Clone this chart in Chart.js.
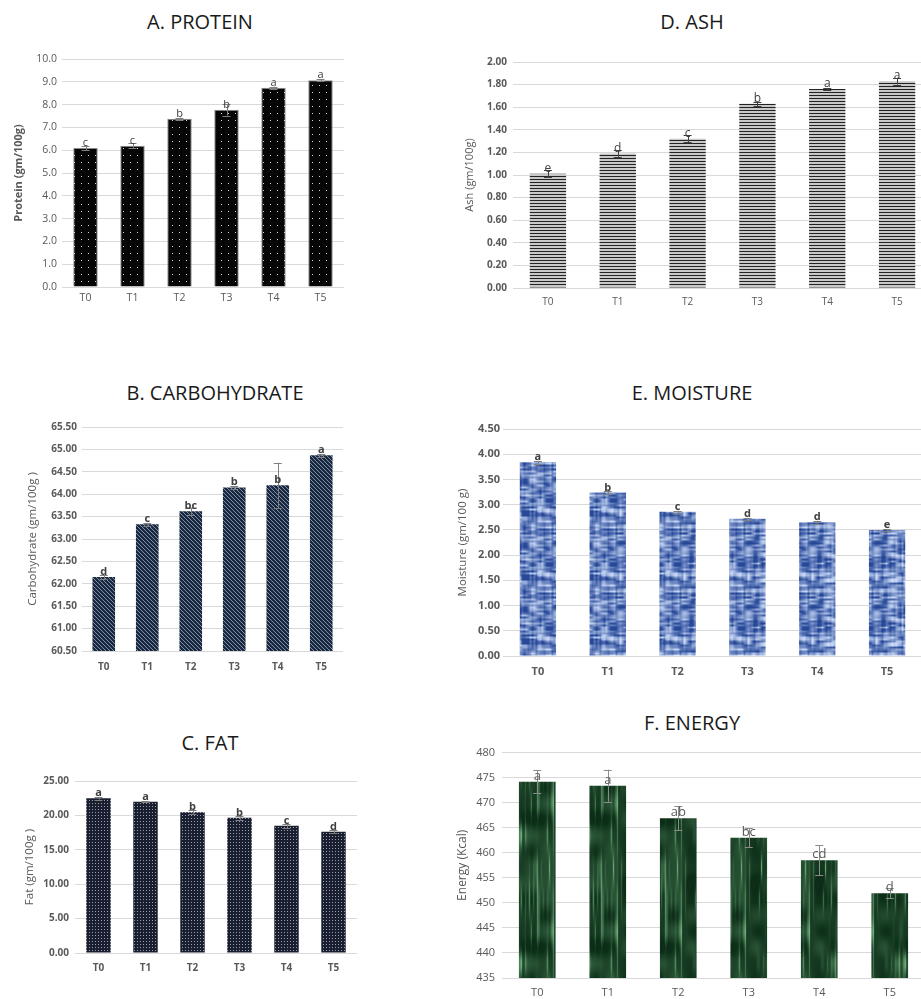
<!DOCTYPE html>
<html>
<head>
<meta charset="utf-8">
<script src="https://cdn.jsdelivr.net/npm/chart.js@4.4.1/dist/chart.umd.min.js"></script>
<style>
    html, body { margin: 0; padding: 0; background: #fff; overflow: hidden; }
    body { width: 921px; height: 999px; position: relative; }
    .panel { position: absolute; }
    .title {
        position: absolute;
        font-family: 'Open Sans', sans-serif;
        font-size: 20px;
        color: #1a1a1a;
        transform: translate(-50%, -50%);
        white-space: nowrap;
    }
</style>
</head>
<body>
<div class="title" style="left:200px; top:21px;">A. PROTEIN</div>
<div class="title" style="left:692px; top:21px;">D. ASH</div>
<div class="title" style="left:215px; top:392px;">B. CARBOHYDRATE</div>
<div class="title" style="left:692px; top:392px;">E. MOISTURE</div>
<div class="title" style="left:210px; top:742px;">C. FAT</div>
<div class="title" style="left:692px; top:722px;">F. ENERGY</div>

<div class="panel" id="boxA"><canvas id="chartA"></canvas></div>
<div class="panel" id="boxD"><canvas id="chartD"></canvas></div>
<div class="panel" id="boxB"><canvas id="chartB"></canvas></div>
<div class="panel" id="boxE"><canvas id="chartE"></canvas></div>
<div class="panel" id="boxC"><canvas id="chartC"></canvas></div>
<div class="panel" id="boxF"><canvas id="chartF"></canvas></div>

<script>
// --- Data ---
const treatments = ['T0', 'T1', 'T2', 'T3', 'T4', 'T5'];

const proteinValues = [6.10, 6.20, 7.38, 7.77, 8.74, 9.07];
const proteinErrors = [0.10, 0.10, 0.05, 0.25, 0.05, 0.05];
const proteinLetters = ['c', 'c', 'b', 'b', 'a', 'a'];
const proteinAxis = [0, 10, 1];          // min, max, step

const ashValues = [1.01, 1.19, 1.32, 1.63, 1.76, 1.83];
const ashErrors = [0.03, 0.03, 0.03, 0.02, 0.01, 0.03];
const ashLetters = ['e', 'd', 'c', 'b', 'a', 'a'];
const ashAxis = [0, 2, 0.2];

const carbValues = [62.15, 63.33, 63.62, 64.15, 64.20, 64.87];
const carbErrors = [0.04, 0.03, 0.08, 0.03, 0.50, 0.03];
const carbLetters = ['d', 'c', 'bc', 'b', 'b', 'a'];
const carbAxis = [60.5, 65.5, 0.5];

const moistureValues = [3.84, 3.24, 2.86, 2.72, 2.65, 2.50];
const moistureErrors = [0.03, 0.03, 0.02, 0.02, 0.03, 0.02];
const moistureLetters = ['a', 'b', 'c', 'd', 'd', 'e'];
const moistureAxis = [0, 4.5, 0.5];

const fatValues = [22.48, 22.00, 20.45, 19.67, 18.50, 17.63];
const fatErrors = [0.20, 0.10, 0.30, 0.30, 0.30, 0.20];
const fatLetters = ['a', 'a', 'b', 'b', 'c', 'd'];
const fatAxis = [0, 25, 5];

const energyValues = [474.2, 473.4, 466.9, 463.0, 458.5, 451.9];
const energyErrors = [2.3, 3.2, 2.4, 1.9, 3.0, 1.0];
const energyLetters = ['a', 'a', 'ab', 'bc', 'cd', 'd'];
const energyAxis = [435, 480, 5];

const GRID = '#d9d9d9';
const TEXT = '#595959';
const FONT = "'Open Sans', sans-serif";

/**
 * Builds a repeating fill from a small bitmap. fn(x, y) returns [r, g, b].
 */
function bitmapPattern(w, h, fn) {
    const c = document.createElement('canvas');
    c.width = w;
    c.height = h;
    const g = c.getContext('2d');
    const img = g.createImageData(w, h);
    for (let y = 0; y < h; y++) {
        for (let x = 0; x < w; x++) {
            const [r, gg, b] = fn(x, y);
            const k = (y * w + x) * 4;
            img.data[k] = r; img.data[k + 1] = gg; img.data[k + 2] = b; img.data[k + 3] = 255;
        }
    }
    g.putImageData(img, 0, 0);
    return g.createPattern(c, 'repeat');
}

function mix(a, b, t) {
    t = Math.max(0, Math.min(1, t));
    return [0, 1, 2].map(i => Math.round(a[i] + (b[i] - a[i]) * t));
}

// Integer hash, used only for the bar textures (fixed, repeatable)
function hash(x, y, seed) {
    let h = (x * 374761393 + y * 668265263 + seed * 982451653) | 0;
    h = Math.imul(h ^ (h >>> 13), 1274126177);
    return ((h ^ (h >>> 16)) >>> 0) / 4294967295;
}

// Tileable value noise over a w x h tile with cells of cw x ch
function noise(x, y, cw, ch, w, h, seed) {
    const nx = w / cw, ny = h / ch;
    const gx = x / cw, gy = y / ch;
    const x0 = Math.floor(gx), y0 = Math.floor(gy);
    const fx = gx - x0, fy = gy - y0;
    const sx = fx * fx * (3 - 2 * fx), sy = fy * fy * (3 - 2 * fy);
    const v = (i, j) => hash((i + nx) % nx, (j + ny) % ny, seed);
    const a = v(x0, y0) + (v(x0 + 1, y0) - v(x0, y0)) * sx;
    const b = v(x0, y0 + 1) + (v(x0 + 1, y0 + 1) - v(x0, y0 + 1)) * sx;
    return a + (b - a) * sy;
}

// Fills mimicking the Excel textures
const fills = {
    dots: bitmapPattern(7, 7, (x, y) => (x === 3 && y === 3) ? [215, 215, 215] : [6, 6, 6]),
    hstripes: bitmapPattern(2, 3, (x, y) => y === 0 ? [35, 35, 35] : [200, 200, 200]),
    diagonal: bitmapPattern(4, 4, (x, y) => ((x - y + 8) % 4 === 0) ? [120, 145, 175] : [27, 40, 62]),
    finedots: bitmapPattern(3, 3, (x, y) => (x === 1 && y === 1) ? [150, 158, 182] : [26, 31, 48]),
    bluecloth: bitmapPattern(64, 64, (x, y) => {
        const rows = noise(x, y, 8, 2, 64, 64, 3);
        const cols = noise(x, y, 2, 16, 64, 64, 7);
        const t = rows * 0.65 + cols * 0.35;
        return mix([40, 72, 152], [198, 216, 246], (t - 0.2) * 1.5);
    }),
    greenmarble: bitmapPattern(64, 128, (x, y) => {
        const streak = noise(x, y, 2, 32, 64, 128, 11);
        const blot = noise(x, y, 16, 16, 64, 128, 5);
        const t = Math.pow(streak, 4) * 0.9 + (blot - 0.5) * 0.35 + 0.1;
        return mix([12, 46, 24], [110, 170, 122], t);
    })
};

/**
 * Draws the error bars and significance letters on top of each bar.
 */
const significancePlugin = {
    id: 'significance',
    afterDatasetsDraw(chart) {
        const ds = chart.data.datasets[0];
        const meta = chart.getDatasetMeta(0);
        const y = chart.scales.y;
        const ctx = chart.ctx;
        ctx.save();
        meta.data.forEach((bar, i) => {
            const v = ds.data[i];
            const e = ds.errors[i];
            const top = y.getPixelForValue(v + e);
            const bot = y.getPixelForValue(v - e);
            ctx.strokeStyle = ds.errorColor;
            ctx.lineWidth = 1;
            ctx.beginPath();
            ctx.moveTo(Math.round(bar.x) + 0.5, top);
            ctx.lineTo(Math.round(bar.x) + 0.5, bot);
            ctx.moveTo(bar.x - 4, Math.round(top) + 0.5);
            ctx.lineTo(bar.x + 4, Math.round(top) + 0.5);
            ctx.moveTo(bar.x - 4, Math.round(bot) + 0.5);
            ctx.lineTo(bar.x + 4, Math.round(bot) + 0.5);
            ctx.stroke();

            ctx.fillStyle = ds.letterColor;
            ctx.font = ds.letterFont;
            ctx.textAlign = 'center';
            ctx.textBaseline = 'alphabetic';
            ctx.fillText(ds.letters[i], bar.x, bar.y - 2);
        });
        ctx.restore();
    }
};

/**
 * Creates one panel. geo holds the plot-area edges measured on the figure.
 */
function makePanel(id, geo, values, errors, letters, axis, style) {
    const box = document.getElementById('box' + id);
    const left = geo.titleX - 11;
    const top = geo.top - 12;
    const xAxisH = 26;
    const width = geo.right - left;
    const height = geo.bottom - top + xAxisH;
    box.style.left = left + 'px';
    box.style.top = top + 'px';
    box.style.width = width + 'px';
    box.style.height = height + 'px';

    const tickFont = { family: FONT, size: style.tickSize, weight: style.tickWeight };

    new Chart(document.getElementById('chart' + id), {
        type: 'bar',
        data: {
            labels: treatments,
            datasets: [{
                data: values,
                errors: errors,
                letters: letters,
                backgroundColor: style.fill,
                borderColor: style.border || 'rgba(0,0,0,0)',
                borderWidth: style.border ? 1 : 0,
                barPercentage: 0.52,
                categoryPercentage: 1.0,
                errorColor: style.errorColor || '#7f7f7f',
                letterColor: style.letterColor || '#404040',
                letterFont: style.letterFont
            }]
        },
        options: {
            responsive: true,
            maintainAspectRatio: false,
            animation: false,
            layout: { padding: { top: 12, left: 0, right: 0, bottom: 0 } },
            plugins: { legend: { display: false }, tooltip: { enabled: false } },
            scales: {
                x: {
                    grid: { display: false, drawTicks: false },
                    border: { display: true, color: GRID },
                    ticks: {
                        color: TEXT,
                        font: { family: FONT, size: style.xSize || style.tickSize, weight: style.xWeight || style.tickWeight },
                        padding: (geo.labelY - geo.bottom) - (style.xSize || style.tickSize) * 0.6
                    },
                    afterFit: (scale) => { scale.height = xAxisH; }
                },
                y: {
                    min: axis[0],
                    max: axis[1],
                    grid: { color: GRID, drawTicks: false },
                    border: { display: false },
                    ticks: {
                        stepSize: axis[2],
                        color: TEXT,
                        font: tickFont,
                        padding: style.tickPad,
                        callback: (v) => v.toFixed(style.decimals)
                    },
                    title: {
                        display: true,
                        text: style.yTitle,
                        color: TEXT,
                        font: { family: FONT, size: style.titleSize, weight: style.titleWeight || 'normal' },
                        padding: { top: 4, bottom: 0 }
                    },
                    afterFit: (scale) => { scale.width = geo.left - left; }
                }
            }
        },
        plugins: [significancePlugin]
    });
}

makePanel('A', { left: 62, right: 344, top: 59, bottom: 287, titleX: 19, labelY: 298 },
    proteinValues, proteinErrors, proteinLetters, proteinAxis,
    { fill: fills.dots, border: '#8a8a8a', tickSize: 10.5, tickWeight: 'normal', tickPad: 5, decimals: 1,
      yTitle: 'Protein (gm/100g)', titleSize: 11, titleWeight: 'bold', letterFont: "11px 'Open Sans', sans-serif" });

makePanel('D', { left: 513, right: 932, top: 62, bottom: 288, titleX: 470, labelY: 302 },
    ashValues, ashErrors, ashLetters, ashAxis,
    { fill: fills.hstripes, tickSize: 10, tickWeight: 'bold', xWeight: 'normal', tickPad: 6, decimals: 2,
      yTitle: 'Ash (gm/100g)', titleSize: 11, errorColor: '#404040', letterFont: "12px 'Open Sans', sans-serif" });

makePanel('B', { left: 82, right: 343, top: 427, bottom: 651, titleX: 33, labelY: 667 },
    carbValues, carbErrors, carbLetters, carbAxis,
    { fill: fills.diagonal, tickSize: 10, tickWeight: 'bold', tickPad: 5, decimals: 2,
      yTitle: 'Carbohydrate (gm/100g )', titleSize: 11.5, letterFont: "bold 11px 'Open Sans', sans-serif" });

makePanel('E', { left: 503, right: 922, top: 429, bottom: 656, titleX: 463, labelY: 672 },
    moistureValues, moistureErrors, moistureLetters, moistureAxis,
    { fill: fills.bluecloth, tickSize: 11, tickWeight: 'bold', tickPad: 3, decimals: 2,
      yTitle: 'Moisture (gm/100 g)', titleSize: 11.5, letterFont: "bold 11px 'Open Sans', sans-serif" });

makePanel('C', { left: 75, right: 357, top: 781, bottom: 953, titleX: 30, labelY: 968 },
    fatValues, fatErrors, fatLetters, fatAxis,
    { fill: fills.finedots, tickSize: 10, tickWeight: 'bold', tickPad: 6, decimals: 2,
      yTitle: 'Fat (gm/100g )', titleSize: 11.5, letterFont: "bold 11px 'Open Sans', sans-serif" });

makePanel('F', { left: 502, right: 925, top: 751, bottom: 978, titleX: 462, labelY: 993 },
    energyValues, energyErrors, energyLetters, energyAxis,
    { fill: fills.greenmarble, tickSize: 11, tickWeight: 'normal', tickPad: 7, decimals: 0,
      yTitle: 'Energy (Kcal)', titleSize: 12, errorColor: '#8c8c8c', letterColor: '#595959',
      letterFont: "13px 'Open Sans', sans-serif" });
</script>
</body>
</html>
